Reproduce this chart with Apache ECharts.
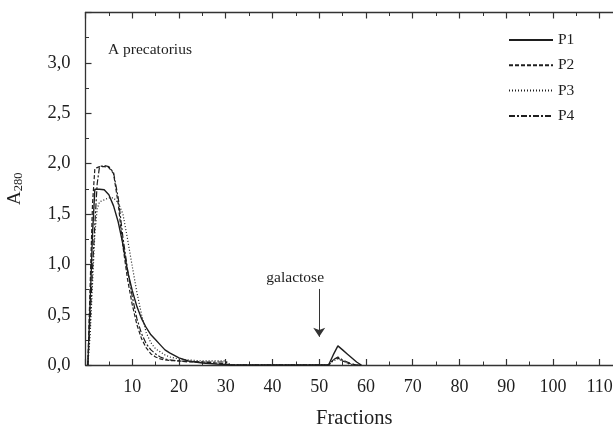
<!DOCTYPE html>
<html>
<head>
<meta charset="utf-8">
<script src="https://cdn.jsdelivr.net/npm/echarts@6/dist/echarts.min.js"></script>
<style>
  html, body { margin: 0; padding: 0; background: #fff; }
  #chart { width: 613px; height: 425px; }
</style>
</head>
<body>
<div id="chart"></div>
<script>
// fraction numbers (x)
const fractions = [0.5, 1, 1.5, 2, 2.5, 3, 4, 5, 6, 7, 8, 9, 10, 11, 12, 13, 14, 15, 16, 17, 18, 20, 22, 25, 28, 30, 31, 35, 40, 45, 50, 51, 52, 53, 54, 55, 56, 57, 58, 59]
// A280 per peak
const p1 = [0, 0.62, 1.3, 1.745, 1.745, 1.745, 1.74, 1.69, 1.58, 1.42, 1.2, 0.93, 0.74, 0.58, 0.46, 0.37, 0.3, 0.25, 0.2, 0.15, 0.12, 0.07, 0.04, 0.02, 0.01, 0.005, 0, 0, 0, 0, 0, 0, 0, 0.1, 0.19, 0.15, 0.11, 0.07, 0.03, 0]
const p2 = [0, 0.8, 1.6, 1.95, 1.96, 1.97, 1.97, 1.96, 1.9, 1.6, 1.18, 0.85, 0.6, 0.4, 0.26, 0.17, 0.11, 0.08, 0.06, 0.05, 0.045, 0.04, 0.03, 0.03, 0.02, 0.01, 0, 0, 0, 0, 0, 0, 0, 0.05, 0.07, 0.04, 0.02, 0.01, 0, 0]
const p3 = [0, 0.3, 0.8, 1.3, 1.55, 1.62, 1.64, 1.66, 1.66, 1.61, 1.5, 1.25, 0.98, 0.72, 0.5, 0.32, 0.22, 0.16, 0.13, 0.1, 0.08, 0.06, 0.05, 0.04, 0.04, 0.04, 0, 0, 0, 0, 0, 0, 0, 0.04, 0.06, 0.04, 0.02, 0, 0, 0]
const p4 = [0, 0.45, 0.95, 1.4, 1.8, 1.97, 1.98, 1.97, 1.91, 1.66, 1.27, 0.95, 0.68, 0.46, 0.31, 0.21, 0.15, 0.11, 0.08, 0.06, 0.05, 0.04, 0.035, 0.03, 0.03, 0.03, 0, 0, 0, 0, 0, 0, 0, 0.05, 0.08, 0.05, 0.03, 0.01, 0, 0]
const seriesNames = ['P1', 'P2', 'P3', 'P4']
const lineTypes = ['solid', [4, 2], [1, 2], [6, 2, 2, 2]]

const font = 'Liberation Serif'
const ink = '#1e1e1e'

const toPairs = vals => fractions.map((f, i) => [f, vals[i]])
const fmtComma = v => v.toFixed(1).replace('.', ',')

const chart = echarts.init(document.getElementById('chart'))

const xBase = {
  type: 'value',
  min: 0,
  max: 115,
  interval: 10,
  axisLine: { lineStyle: { color: '#333', width: 1.3 } },
  axisTick: { inside: true, length: 6, lineStyle: { color: '#333', width: 1.2 } },
  minorTick: { show: true, splitNumber: 2, length: 3.5, lineStyle: { color: '#333', width: 1 } },
  splitLine: { show: false }
}

const series = [p1, p2, p3, p4].map((vals, i) => ({
  name: seriesNames[i],
  type: 'line',
  data: toPairs(vals),
  symbol: 'none',
  lineStyle: { color: ink, width: i === 0 ? 1.4 : 1.2, type: lineTypes[i] },
  itemStyle: { color: ink }
}))

// galactose arrow
series[0].markLine = {
  silent: true,
  animation: false,
  symbol: ['none', 'arrow'],
  symbolSize: 9,
  lineStyle: { color: '#333', type: 'solid', width: 1 },
  label: {
    show: true,
    position: 'start',
    formatter: 'galactose',
    distance: 3,
    offset: [-24, 0],
    fontFamily: font,
    fontSize: 15.5,
    color: ink
  },
  data: [[{ coord: [50, 0.755] }, { coord: [50, 0.28] }]]
}

chart.setOption({
  animation: false,
  backgroundColor: '#fff',
  grid: { left: 85.5, right: -10, top: 12.5, bottom: 60, outerBoundsMode: 'none' },
  title: {
    text: 'A precatorius',
    left: 103,
    top: 37,
    textStyle: { fontFamily: font, fontSize: 15.5, fontWeight: 'normal', color: ink }
  },
  legend: {
    orient: 'vertical',
    left: 508,
    top: 32,
    padding: 0,
    itemWidth: 44,
    itemHeight: 14,
    itemGap: 9.3,
    itemStyle: { opacity: 0 },
    data: seriesNames,
    textStyle: { fontFamily: font, fontSize: 15.5, color: ink }
  },
  xAxis: [
    Object.assign({}, xBase, {
      position: 'bottom',
      name: 'Fractions',
      nameLocation: 'middle',
      nameGap: 43,
      nameTextStyle: { fontFamily: font, fontSize: 20.5, color: ink },
      axisLabel: {
        margin: 13,
        showMinLabel: false,
        fontFamily: font,
        fontSize: 18,
        color: ink
      }
    }),
    Object.assign({}, xBase, {
      position: 'top',
      axisLabel: { show: false }
    })
  ],
  yAxis: {
    type: 'value',
    min: 0,
    max: 3.5,
    interval: 0.5,
    name: '{a|A}{s|280}',
    nameLocation: 'middle',
    nameGap: 60,
    nameTextStyle: {
      rich: {
        a: { fontFamily: font, fontSize: 19, color: ink },
        s: { fontFamily: font, fontSize: 12.5, color: ink, verticalAlign: 'bottom', padding: [8, 0, 0, 0] }
      }
    },
    axisLine: { show: true, lineStyle: { color: '#333', width: 1.3 } },
    axisTick: { show: true, inside: true, length: 6, lineStyle: { color: '#333', width: 1.2 } },
    minorTick: { show: true, splitNumber: 2, length: 3.5, lineStyle: { color: '#333', width: 1 } },
    splitLine: { show: false },
    axisLabel: {
      margin: 15,
      showMaxLabel: false,
      formatter: fmtComma,
      fontFamily: font,
      fontSize: 18.5,
      color: ink
    }
  },
  series: series
})
</script>
</body>
</html>
